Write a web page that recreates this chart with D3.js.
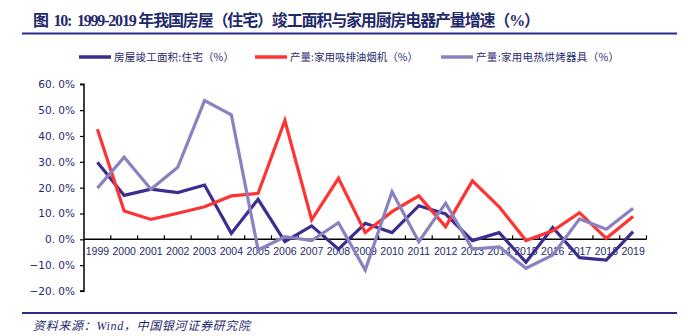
<!DOCTYPE html>
<html>
<head>
<meta charset="utf-8">
<script src="https://cdn.jsdelivr.net/npm/d3@7"></script>
<style>
  html, body { margin: 0; padding: 0; background: #fff; }
  svg { display: block; }
</style>
</head>
<body>
<svg id="chart" width="688" height="336"></svg>
<script>
// Years on the category axis
const years = ["1999","2000","2001","2002","2003","2004","2005","2006","2007","2008","2009",
               "2010","2011","2012","2013","2014","2015","2016","2017","2018","2019"];

// Growth rates (%)
const housing = [29.8, 17.0, 19.4, 18.1, 21.0, 2.3, 15.5, -0.9, 5.2, -3.8, 6.2,
                 2.6, 13.0, 9.8, -0.5, 2.6, -8.9, 4.6, -7.1, -8.0, 3.0];
const rangeHood = [42.6, 11.0, 7.7, 10.1, 12.6, 16.8, 17.8, 46.0, 7.5, 23.6, 2.6,
                   10.7, 16.8, 4.9, 22.6, 12.6, -0.5, 3.3, 10.3, 0.4, 8.8];
const oven = [19.8, 31.8, 19.4, 27.9, 53.7, 48.2, -4.1, 1.0, -0.5, 6.4, -11.9,
              18.4, -0.9, 14.0, -3.8, -2.9, -11.2, -6.1, 7.9, 3.9, 12.0];

const yTicks = [-20, -10, 0, 10, 20, 30, 40, 50, 60];

const seriesNames = ["房屋竣工面积:住宅（%）", "产量:家用吸排油烟机（%）", "产量:家用电热烘烤器具（%）"];
const seriesColors = ["#3b2e8e", "#ff3333", "#8a82c0"];
const seriesData = [housing, rangeHood, oven];

const svg = d3.select("#chart");
const navy = "#1f2a6b";
const serif = "'Liberation Serif', 'Noto Sans CJK SC', serif";

// Title
svg.append("text")
  .attr("x", 33).attr("y", 26)
  .attr("font-family", serif)
  .attr("font-weight", "bold")
  .attr("font-size", 16)
  .attr("fill", navy)
  .attr("textLength", 507)
  .attr("lengthAdjust", "spacing")
  .style("white-space", "pre")
  .text("图  10:  1999-2019 年我国房屋（住宅）竣工面积与家用厨房电器产量增速（%）");

// Rules under title and above source
svg.append("line").attr("x1", 22).attr("x2", 677).attr("y1", 33.5).attr("y2", 33.5)
  .attr("stroke", "#2a2a8c").attr("stroke-width", 2);
svg.append("line").attr("x1", 22).attr("x2", 677).attr("y1", 313).attr("y2", 313)
  .attr("stroke", "#2a2a8c").attr("stroke-width", 2);

// Source line
svg.append("text")
  .attr("x", 33).attr("y", 330)
  .attr("font-family", serif)
  .attr("font-style", "italic")
  .attr("font-size", 12)
  .attr("fill", navy)
  .attr("textLength", 217)
  .attr("lengthAdjust", "spacing")
  .text("资料来源：Wind，中国银河证券研究院");

// Scales
const x = d3.scaleBand().domain(years).range([84, 646.5]);
const y = d3.scaleLinear().domain([-20, 60]).range([291, 84.3]);

const tickFont = "'Liberation Sans', sans-serif";

// Y axis
const yAxis = svg.append("g")
  .attr("transform", `translate(${x.range()[0]},0)`)
  .call(d3.axisLeft(y).tickValues(yTicks).tickSize(4).tickPadding(5)
    .tickFormat(d => d3.format(".1f")(d) + "%"));
yAxis.select(".domain").attr("stroke", "#000").attr("stroke-width", 1.5).attr("d", `M-4,${y(-20)}H0V${y(60)}H-4`);
yAxis.selectAll(".tick line").attr("stroke", "#000").attr("stroke-width", 1.2);
yAxis.selectAll(".tick text")
  .attr("font-family", "'DejaVu Sans', sans-serif").attr("font-size", 10.5).attr("fill", navy)
  .text(d => (d < 0 ? "−" : "") + d3.format(".1f")(Math.abs(d)).replace(".", ". ") + "%");

// X axis along zero, ticks at category boundaries pointing up
const xAxisG = svg.append("g").attr("transform", `translate(0,${y(0)})`);
xAxisG.append("line")
  .attr("x1", x.range()[0]).attr("x2", x.range()[1])
  .attr("stroke", "#000").attr("stroke-width", 1.5);
xAxisG.selectAll("line.tk")
  .data(years)
  .join("line")
  .attr("class", "tk")
  .attr("x1", d => x(d) + x.bandwidth())
  .attr("x2", d => x(d) + x.bandwidth())
  .attr("y1", 0).attr("y2", -4)
  .attr("stroke", "#000").attr("stroke-width", 1.2);
xAxisG.selectAll("text")
  .data(years)
  .join("text")
  .attr("x", d => x(d) + x.bandwidth() / 2)
  .attr("y", 16)
  .attr("text-anchor", "middle")
  .attr("font-family", tickFont).attr("font-size", 10.5).attr("fill", navy)
  .text(d => d);

// Lines
const line = d3.line()
  .x((d, i) => x(years[i]) + x.bandwidth() / 2)
  .y(d => y(d));

seriesData.forEach((data, k) => {
  svg.append("path")
    .datum(data)
    .attr("fill", "none")
    .attr("stroke", seriesColors[k])
    .attr("stroke-width", 3.2)
    .attr("stroke-linejoin", "miter")
    .attr("d", line);
});

// Legend
const legendX = [79, 255, 441];
const legendTextW = [120, 128, 143];
seriesNames.forEach((name, k) => {
  const g = svg.append("g").attr("transform", `translate(${legendX[k]},57)`);
  g.append("line").attr("x1", 0).attr("x2", 32).attr("y1", 0).attr("y2", 0)
    .attr("stroke", seriesColors[k]).attr("stroke-width", 3.5);
  g.append("text").attr("x", 35).attr("y", 4)
    .attr("font-family", "'Noto Sans CJK SC', sans-serif")
    .attr("font-size", 10.5)
    .attr("fill", navy)
    .attr("textLength", legendTextW[k])
    .attr("lengthAdjust", "spacing")
    .text(name);
});
</script>
</body>
</html>
